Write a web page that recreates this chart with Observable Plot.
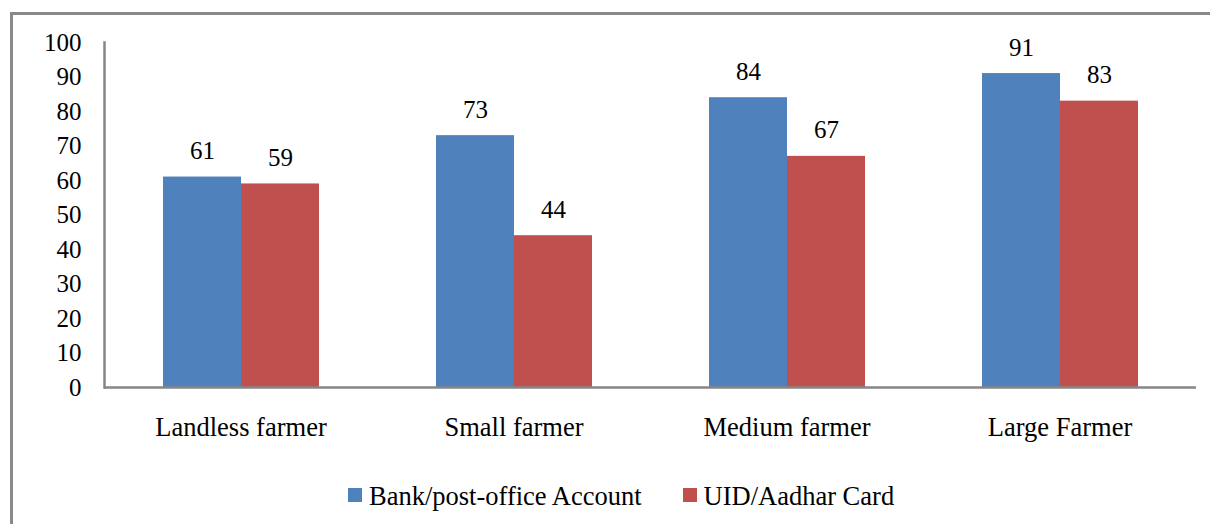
<!DOCTYPE html>
<html>
<head>
<meta charset="utf-8">
<script src="https://cdn.jsdelivr.net/npm/d3@7"></script>
<script src="https://cdn.jsdelivr.net/npm/@observablehq/plot@0.6"></script>
<style>
  html, body { margin: 0; padding: 0; background: #fff; }
  #page { position: relative; width: 1210px; height: 524px; overflow: hidden; font-family: 'Liberation Serif', 'Times New Roman', serif; }
  #border { position: absolute; left: 10px; top: 12px; width: 1300px; height: 600px; border-left: 3px solid #898989; border-top: 3px solid #898989; box-sizing: border-box; }
  #chart { position: absolute; left: 0; top: 0; }
  #legend { position: absolute; left: 348px; top: 481px; display: flex; align-items: flex-start; font-size: 26.5px; line-height: 30px; color: #000; white-space: nowrap; }
  .item { display: flex; align-items: flex-start; }
  .sw { width: 14px; height: 14px; margin-top: 7px; margin-right: 7px; }
</style>
</head>
<body>
<div id="page">
  <div id="border"></div>
  <div id="chart"></div>
  <div id="legend"></div>
</div>
<script>
const categories = ["Landless farmer", "Small farmer", "Medium farmer", "Large Farmer"];
const seriesNames = ["Bank/post-office Account", "UID/Aadhar Card"];
const bankValues = [61, 73, 84, 91];
const uidValues = [59, 44, 67, 83];
const colors = ["#4F81BD", "#C0504D"];
const yTicks = [0, 10, 20, 30, 40, 50, 60, 70, 80, 90, 100];

const table = [];
categories.forEach((c, i) => {
  table.push({category: c, series: seriesNames[0], value: bankValues[i]});
  table.push({category: c, series: seriesNames[1], value: uidValues[i]});
});

const FONT = "'Liberation Serif', 'Times New Roman', serif";

const chart = Plot.plot({
  width: 1210,
  height: 460,
  marginLeft: 104,
  marginRight: 14,
  marginTop: 42,
  marginBottom: 73,
  style: {fontFamily: FONT, fontSize: "25px", color: "#000", background: "transparent", overflow: "visible"},
  fx: {domain: categories, padding: 0},
  x: {domain: seriesNames, paddingInner: 0, paddingOuter: 0.75, axis: null},
  y: {domain: [0, 100]},
  color: {domain: seriesNames, range: colors},
  marks: [
    Plot.axisY({ticks: yTicks, tickSize: 0, tickPadding: 23, label: null, fontFamily: FONT, fontSize: 25, fill: "#000"}),
    Plot.axisFx({anchor: "bottom", tickSize: 0, tickPadding: 30, label: null, fontFamily: FONT, fontSize: 26.5, fill: "#000"}),
    Plot.barY(table, {fx: "category", x: "series", y: "value", fill: "series"}),
    Plot.text(table, {fx: "category", x: "series", y: "value", text: d => String(d.value), dy: -18, lineAnchor: "bottom", fill: "#000", fontFamily: FONT, fontSize: 25}),
    Plot.ruleY([0], {stroke: "#868686", strokeWidth: 2.5}),
    Plot.frame({anchor: "left", stroke: "#868686", strokeWidth: 2.5, facet: "super"})
  ]
});
document.getElementById("chart").appendChild(chart);

const legend = document.getElementById("legend");
seriesNames.forEach((s, i) => {
  const item = document.createElement("div");
  item.className = "item";
  if (i > 0) item.style.marginLeft = "41px";
  const sw = document.createElement("span");
  sw.className = "sw";
  sw.style.background = colors[i];
  const t = document.createElement("span");
  t.textContent = s;
  item.appendChild(sw);
  item.appendChild(t);
  legend.appendChild(item);
});
</script>
</body>
</html>
